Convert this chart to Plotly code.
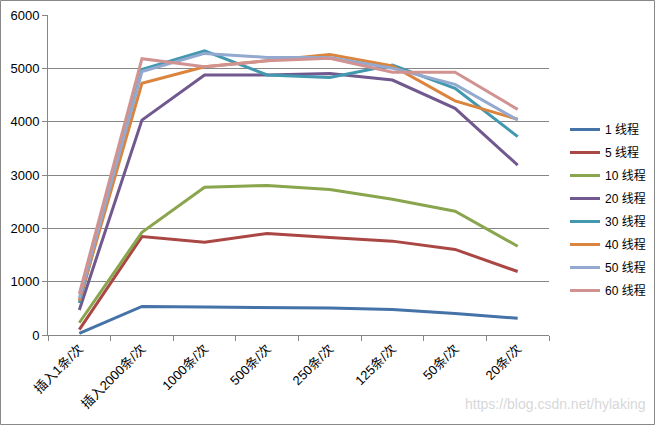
import plotly.graph_objects as go

categories = ["插入1条/次", "插入2000条/次", "1000条/次", "500条/次", "250条/次", "125条/次", "50条/次", "20条/次"]
series_names = ["1 线程", "5 线程", "10 线程", "20 线程", "30 线程", "40 线程", "50 线程", "60 线程"]
t1 = [30, 535, 525, 520, 505, 480, 405, 313]
t5 = [100, 1845, 1740, 1905, 1830, 1760, 1605, 1190]
t10 = [230, 1925, 2770, 2805, 2730, 2545, 2320, 1665]
t20 = [470, 4030, 4875, 4875, 4905, 4780, 4250, 3185]
t30 = [600, 4980, 5330, 4875, 4830, 5060, 4625, 3720]
t40 = [645, 4720, 5030, 5145, 5260, 5045, 4390, 4045]
t50 = [690, 4940, 5280, 5205, 5205, 5000, 4700, 4030]
t60 = [770, 5180, 5030, 5140, 5190, 4925, 4925, 4230]
colors = ["#4572A7", "#AA4643", "#89A54E", "#71588F", "#4198AF", "#DB843D", "#93A9CF", "#D19392"]

series = [t1, t5, t10, t20, t30, t40, t50, t60]

fig = go.Figure()
for i, (name, vals, c) in enumerate(zip(series_names, series, colors)):
    fig.add_trace(go.Scatter(x=categories, y=vals, mode="lines", name=name,
                             line=dict(color=c, width=3), legendgroup=str(i)))

W, H = 656, 426
L, R, T, B = 48, 107, 15, 91
pw, ph = W - L - R, H - T - B
FONT = "Liberation Sans, Noto Sans CJK SC"

fig.update_layout(
    width=W, height=H,
    margin=dict(l=L, r=R, t=T, b=B, autoexpand=False),
    paper_bgcolor="white", plot_bgcolor="white",
    font=dict(family=FONT, size=12, color="#000000"),
    showlegend=True,
    legend=dict(xref="container", yref="container", x=565 / W, y=1 - 210 / H,
                xanchor="left", yanchor="middle",
                font=dict(size=12, family=FONT),
                tracegroupgap=4, itemwidth=30, bgcolor="rgba(0,0,0,0)"),
    xaxis=dict(type="category", showgrid=False, showline=True, linecolor="#868686",
               linewidth=1, ticks="outside", tickson="boundaries", ticklen=5,
               tickcolor="#868686", tickangle=-45,
               tickfont=dict(size=13, family=FONT),
               range=[-0.5, 7.5], fixedrange=True),
    yaxis=dict(range=[0, 6000], dtick=1000, showgrid=True, gridcolor="#868686",
               gridwidth=1, showline=True, linecolor="#868686", ticks="outside",
               ticklen=5, tickcolor="#868686", zeroline=False,
               tickfont=dict(size=13, family="Liberation Sans"), fixedrange=True),
    shapes=[dict(type="rect", xref="paper", yref="paper",
                 x0=-(L - 0.5) / pw, x1=1 + (R - 1.5) / pw,
                 y0=-(B - 1.5) / ph, y1=1 + (T - 0.5) / ph,
                 line=dict(color="#888888", width=1), layer="above")],
    annotations=[dict(text="https://blog.csdn.net/hylaking", xref="paper", yref="paper",
                      x=1 + (R - 8) / pw, y=-(B - 22) / ph, xanchor="right", yanchor="middle",
                      showarrow=False, font=dict(size=14, color="#D8D8D8", family="Liberation Sans"))],
)

fig.write_html("out.html")
